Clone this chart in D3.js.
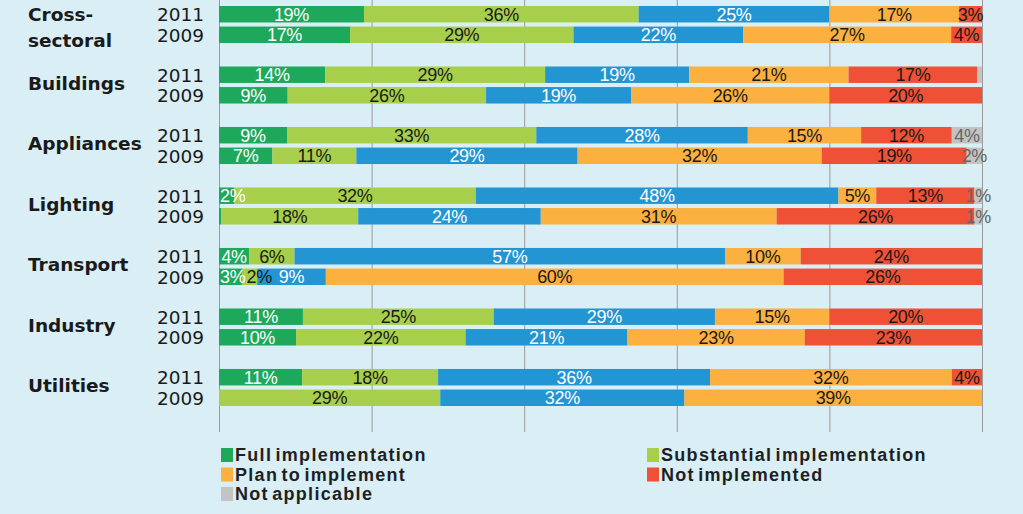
<!DOCTYPE html>
<html>
<head>
<meta charset="utf-8">
<script src="https://cdn.jsdelivr.net/npm/d3@7/dist/d3.min.js"></script>
<style>
  html, body { margin: 0; padding: 0; background: #d9eef5; }
  svg { display: block; }
</style>
</head>
<body>
<svg id="chart" width="1023" height="514"></svg>
<script>
// ---- data ----
const categories = ["Cross-sectoral", "Buildings", "Appliances", "Lighting", "Transport", "Industry", "Utilities"];
const categoryLines = [["Cross-", "sectoral"], ["Buildings"], ["Appliances"], ["Lighting"], ["Transport"], ["Industry"], ["Utilities"]];
const years = ["2011", "2009"];
const seriesNames = ["Full implementation", "Substantial implementation", "Partial implementation", "Plan to implement", "Not implemented", "Not applicable"];
const legendNames = ["Full implementation", "Substantial implementation", "Plan to implement", "Not implemented", "Not applicable"];

const full2011 = [19, 14, 9, 2, 4, 11, 11];
const full2009 = [17, 9, 7, 0.3, 3, 10, 0];
const substantial2011 = [36, 29, 33, 32, 6, 25, 18];
const substantial2009 = [29, 26, 11, 18, 2, 22, 29];
const partial2011 = [25, 19, 28, 48, 57, 29, 36];
const partial2009 = [22, 19, 29, 24, 9, 21, 32];
const plan2011 = [17, 21, 15, 5, 10, 15, 32];
const plan2009 = [27, 26, 32, 31, 60, 23, 39];
const notImpl2011 = [3, 17, 12, 13, 24, 20, 4];
const notImpl2009 = [4, 20, 19, 26, 26, 23, 0];
const notApplicable2011 = [0, 0.6, 4, 1, 0, 0, 0];
const notApplicable2009 = [0, 0, 2, 1, 0, 0, 0];
const xTicks = [0, 20, 40, 60, 80, 100];

// ---- styles ----
const colors = {
  "Full implementation": "#1ea85b",
  "Substantial implementation": "#a7cf4c",
  "Partial implementation": "#2495d3",
  "Plan to implement": "#fbb040",
  "Not implemented": "#ef5136",
  "Not applicable": "#c3c3c3"
};
const labelColors = {
  "Full implementation": "#ffffff",
  "Substantial implementation": "#1a1a1a",
  "Partial implementation": "#ffffff",
  "Plan to implement": "#1a1a1a",
  "Not implemented": "#1a1a1a",
  "Not applicable": "#666666"
};

const byYear = {
  "2011": [full2011, substantial2011, partial2011, plan2011, notImpl2011, notApplicable2011],
  "2009": [full2009, substantial2009, partial2009, plan2009, notImpl2009, notApplicable2009]
};

// build rows
const rows = [];
categories.forEach((cat, ci) => {
  years.forEach(yr => {
    const vals = byYear[yr].map(arr => arr[ci]);
    const total = d3.sum(vals);
    let cum = 0;
    const segs = vals.map((v, si) => {
      const s = { series: seriesNames[si], value: v, x0: cum / total * 100, x1: (cum + v) / total * 100 };
      cum += v;
      return s;
    });
    rows.push({ cat, ci, yr, segs });
  });
});

const svg = d3.select("#chart");
const x = d3.scaleLinear().domain([0, 100]).range([219, 982]);
const yCat = d3.scaleBand().domain(categories).range([6, 406]).paddingInner(0.388).paddingOuter(0);
const yYear = d3.scaleBand().domain(years).range([0, yCat.bandwidth()]).paddingInner(0.2);

// gridlines
const grid = svg.append("g").attr("transform", "translate(0,432)")
  .call(d3.axisBottom(x).tickValues(xTicks).tickSize(-432).tickFormat(""));
grid.select(".domain").remove();
grid.selectAll(".tick line").attr("stroke", "#9a9a9a").attr("stroke-width", 1);

// bars
const rowG = svg.append("g").selectAll("g.row").data(rows).join("g")
  .attr("class", "row")
  .attr("transform", d => `translate(0,${yCat(d.cat) + yYear(d.yr)})`);

rowG.selectAll("rect").data(d => d.segs.filter(s => s.value > 0)).join("rect")
  .attr("x", s => x(s.x0))
  .attr("width", s => Math.max(0, x(s.x1) - x(s.x0)))
  .attr("y", 0)
  .attr("height", yYear.bandwidth())
  .attr("fill", s => colors[s.series]);

// value labels, centred, pushed right to avoid overlap
rowG.each(function (d) {
  const g = d3.select(this);
  let prevRight = x(0) + 1;
  d.segs.filter(s => s.value >= 1).forEach(s => {
    const t = g.append("text")
      .text(Math.round(s.value) + "%")
      .attr("y", yYear.bandwidth() / 2)
      .attr("dy", "0.36em")
      .attr("font-family", "Liberation Sans, Arial, sans-serif")
      .attr("font-size", 18)
      .attr("letter-spacing", "-0.3px")
      .attr("fill", labelColors[s.series]);
    const w = t.node().getComputedTextLength();
    let cx = (x(s.x0) + x(s.x1)) / 2;
    let left = Math.max(cx - w / 2, prevRight);
    t.attr("x", left);
    prevRight = left + w + 1;
  });
});

// left labels
const labelG = svg.append("g");
categories.forEach((cat, ci) => {
  const lines = categoryLines[ci];
  const cy = yCat(cat) + yCat.bandwidth() / 2;
  const t = labelG.append("text")
    .attr("x", 28)
    .attr("font-family", "DejaVu Sans, Verdana, sans-serif")
    .attr("font-weight", "bold")
    .attr("font-size", 18.5)
    .attr("fill", "#1a1a1a");
  if (lines.length === 1) {
    t.append("tspan").attr("x", 28).attr("y", cy - 2).attr("dy", "0.36em").text(lines[0]);
  } else {
    t.append("tspan").attr("x", 28).attr("y", cy - 10).attr("dy", "0.36em").text(lines[0]);
    t.append("tspan").attr("x", 28).attr("y", cy + 16).attr("dy", "0.36em").text(lines[1]);
  }
  years.forEach(yr => {
    labelG.append("text")
      .attr("x", 204)
      .attr("y", yCat(cat) + yYear(yr) + yYear.bandwidth() / 2)
      .attr("dy", "0.38em")
      .attr("text-anchor", "end")
      .attr("font-family", "DejaVu Sans, Verdana, sans-serif")
      .attr("font-size", 18.5)
      .attr("fill", "#1a1a1a")
      .text(yr);
  });
});

// legend
const legendPos = [
  { col: 0, row: 0 }, { col: 1, row: 0 }, { col: 0, row: 1 }, { col: 1, row: 1 }, { col: 0, row: 2 }
];
const colX = [221, 647];
const legend = svg.append("g").selectAll("g").data(legendNames).join("g")
  .attr("transform", (d, i) => `translate(${colX[legendPos[i].col]},${448 + legendPos[i].row * 19.5})`);
legend.append("rect").attr("width", 12).attr("height", 14).attr("fill", d => colors[d]);
legend.append("text")
  .attr("x", 14).attr("y", 7).attr("dy", "0.36em")
  .attr("font-family", "Liberation Sans, Arial, sans-serif")
  .attr("font-weight", "bold")
  .attr("font-size", 18)
  .attr("letter-spacing", "1.3px")
  .attr("word-spacing", "-3px")
  .attr("fill", "#1f1f1f")
  .text(d => d);
</script>
</body>
</html>
